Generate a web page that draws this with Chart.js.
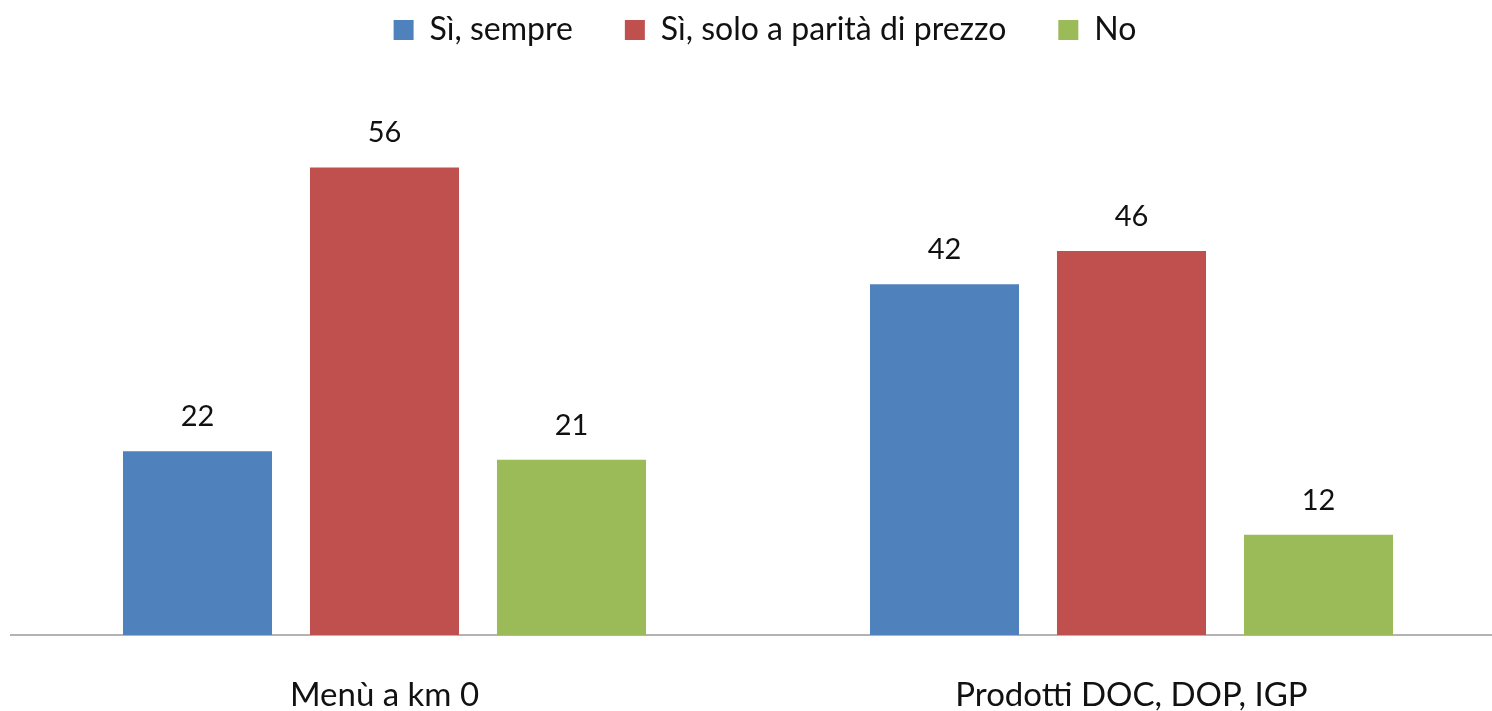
<!DOCTYPE html>
<html><head><meta charset="utf-8">
<script src="https://cdn.jsdelivr.net/npm/chart.js@4"></script>
<style>html,body{margin:0;padding:0;overflow:hidden;background:#fff}#wrap{width:1506px;height:711px;position:relative}</style>
</head><body><div id="wrap"><canvas id="c"></canvas></div>
<script>
const categories = ["Menù a km 0", "Prodotti DOC, DOP, IGP"];
const seriesNames = ["Sì, sempre", "Sì, solo a parità di prezzo", "No"];
const sempre = [22, 42];
const parita = [56, 46];
const no = [21, 12];
const yTicks = [0, 60];
const colors = ["#4F81BD", "#C0504D", "#9BBB59"];

const FONT = "Lato, 'Noto Sans', sans-serif";

const valueLabels = {
  id: 'valueLabels',
  afterDatasetsDraw(chart) {
    const ctx = chart.ctx;
    ctx.save();
    ctx.font = "29px " + FONT;
    ctx.fillStyle = '#111';
    ctx.textAlign = 'center';
    ctx.textBaseline = 'alphabetic';
    chart.data.datasets.forEach((ds, i) => {
      chart.getDatasetMeta(i).data.forEach((bar, j) => {
        ctx.fillText(String(ds.data[j]), bar.x, bar.y - 25);
      });
    });
    ctx.restore();
  }
};

const legendTweak = {
  id: 'legendTweak',
  beforeInit(chart) {
    const lg = chart.legend;
    const origFit = lg.fit;
    lg.fit = function () {
      origFit.call(this);
      this.height = 134;
    };
    const origDraw = lg.draw;
    lg.draw = function () {
      const ctx = this.ctx;
      ctx.save();
      ctx.translate(7, -38);
      origDraw.call(this);
      ctx.restore();
    };
  }
};

new Chart(document.getElementById('c'), {
  type: 'bar',
  data: {
    labels: categories,
    datasets: [
      { label: seriesNames[0], data: sempre, backgroundColor: colors[0] },
      { label: seriesNames[1], data: parita, backgroundColor: colors[1] },
      { label: seriesNames[2], data: no, backgroundColor: colors[2] }
    ]
  },
  options: {
    responsive: true,
    maintainAspectRatio: false,
    animation: false,
    layout: { padding: { left: 11, right: 1, top: 0, bottom: 0 } },
    datasets: { bar: { categoryPercentage: 0.751, barPercentage: 0.797 } },
    plugins: {
      tooltip: { enabled: false },
      legend: {
        position: 'top',
        labels: {
          font: { family: FONT, size: 32 },
          color: '#111',
          boxWidth: 20,
          boxHeight: 20,
          padding: 52
        }
      }
    },
    scales: {
      x: {
        grid: { display: false, drawTicks: false },
        border: { display: true, color: '#b3b3b3', width: 2 },
        ticks: { font: { family: FONT, size: 33, lineHeight: 1 }, color: '#111', padding: 44 },
        afterFit(scale) { scale.height = 76; }
      },
      y: {
        display: false,
        min: yTicks[0],
        max: yTicks[1]
      }
    }
  },
  plugins: [valueLabels, legendTweak]
});
</script>
</body></html>
